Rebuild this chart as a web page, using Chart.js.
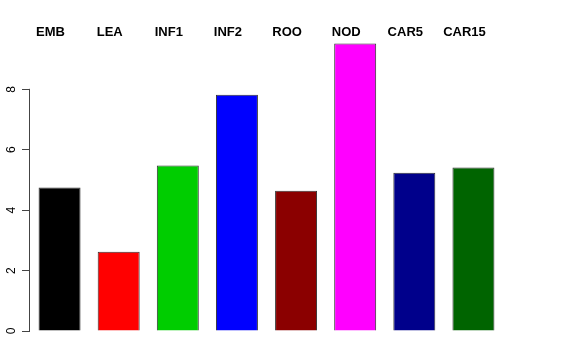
<!DOCTYPE html>
<html>
<head>
<meta charset="utf-8">
<script src="https://cdn.jsdelivr.net/npm/chart.js@4.4.1/dist/chart.umd.min.js"></script>
<style>
  html, body { margin: 0; padding: 0; background: #fff; }
  #wrap { width: 576px; height: 360px; }
</style>
</head>
<body>
<div id="wrap"><canvas id="barChart" width="576" height="360"></canvas></div>
<script>
const tissues = ['EMB', 'LEA', 'INF1', 'INF2', 'ROO', 'NOD', 'CAR5', 'CAR15'];
const values = [4.75, 2.62, 5.48, 7.82, 4.64, 9.52, 5.24, 5.41];
const barColors = ['#000000', '#FF0000', '#00CD00', '#0000FF', '#8B0000', '#FF00FF', '#00008B', '#006400'];
const yTicks = [0, 2, 4, 6, 8];

// R style axis: line only from first to last tick, labels turned 90 degrees
const rAxis = {
    id: 'rAxis',
    afterDraw(chart) {
        const ctx = chart.ctx;
        const y = chart.scales.y;
        const x = Math.round(chart.chartArea.left) - 0.5;
        ctx.save();
        ctx.strokeStyle = '#444';
        ctx.lineWidth = 1;
        ctx.beginPath();
        ctx.moveTo(x, y.getPixelForValue(yTicks[0]) + 0.5);
        ctx.lineTo(x, y.getPixelForValue(yTicks[yTicks.length - 1]) - 0.5);
        ctx.stroke();

        ctx.fillStyle = '#000';
        ctx.font = '12px "Liberation Sans", Arial, sans-serif';
        ctx.textAlign = 'center';
        ctx.textBaseline = 'middle';
        yTicks.forEach(v => {
            ctx.save();
            ctx.translate(12, y.getPixelForValue(v));
            ctx.rotate(-Math.PI / 2);
            ctx.fillText(String(v), 0, 0);
            ctx.restore();
        });
        ctx.restore();
    }
};

new Chart(document.getElementById('barChart'), {
    type: 'bar',
    data: {
        labels: tissues,
        datasets: [{
            data: values,
            backgroundColor: barColors,
            borderColor: '#333',
            borderWidth: 1,
            barPercentage: 0.71,
            categoryPercentage: 1.0
        }]
    },
    options: {
        responsive: false,
        animation: false,
        events: [],
        layout: { padding: { top: 0, right: 73, bottom: 29, left: 0 } },
        plugins: {
            legend: { display: false },
            tooltip: { enabled: false }
        },
        scales: {
            x: {
                position: 'top',
                afterFit(scale) {
                    scale.height = 41;
                },
                grid: { display: false },
                border: { display: false },
                ticks: {
                    color: '#000',
                    padding: -7,
                    labelOffset: -9,
                    maxRotation: 0,
                    font: { family: '"Liberation Sans", Arial, sans-serif', size: 13, weight: 'bold' }
                }
            },
            y: {
                min: 0,
                max: 9.6,
                afterBuildTicks(scale) {
                    scale.ticks = yTicks.map(v => ({ value: v }));
                },
                afterFit(scale) {
                    scale.width = 30;
                },
                grid: {
                    drawOnChartArea: false,
                    drawTicks: true,
                    tickLength: 8,
                    color: '#444'
                },
                border: { display: false },
                ticks: { display: false }
            }
        }
    },
    plugins: [rAxis]
});
</script>
</body>
</html>
